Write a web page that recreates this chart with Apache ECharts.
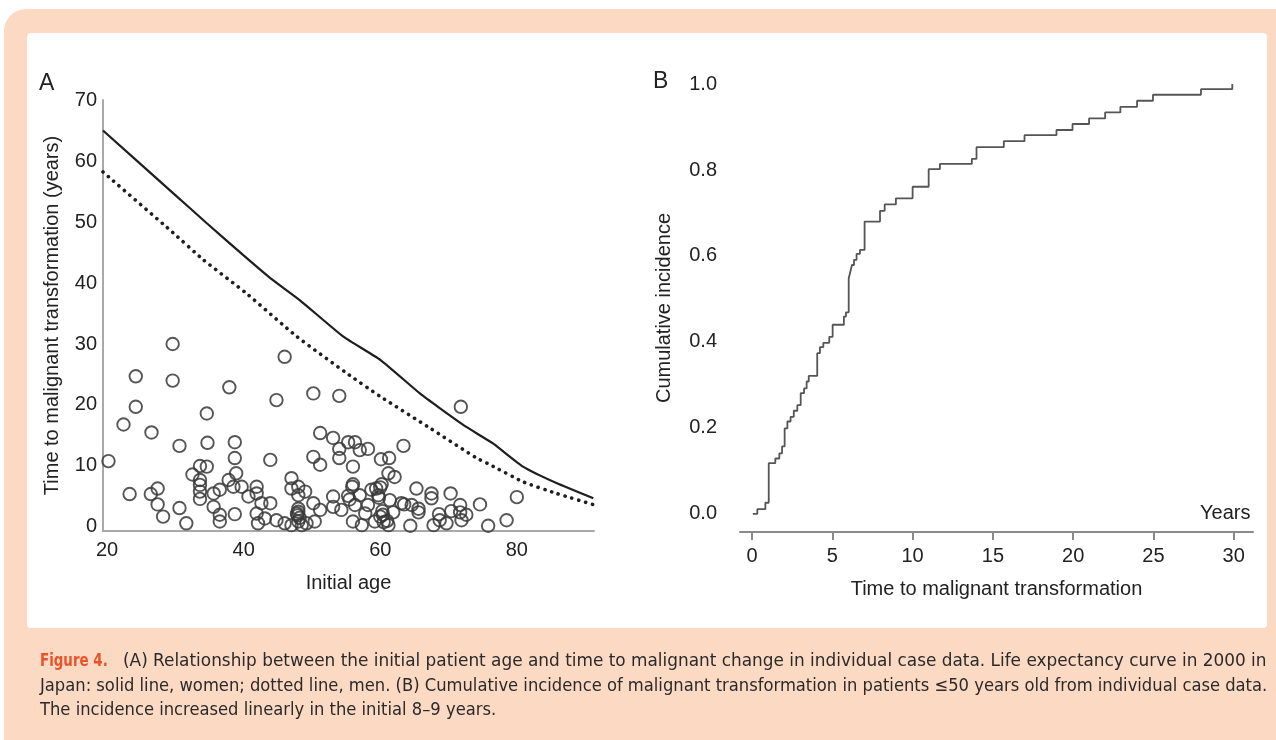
<!DOCTYPE html>
<html><head><meta charset="utf-8">
<script src="https://cdn.jsdelivr.net/npm/echarts@6/dist/echarts.min.js"></script>
<style>html,body{margin:0;padding:0;background:#fff}#c{width:1276px;height:740px}</style>
</head><body><div id="c"></div>
<script>
// Panel A: scatter (initial age, years to malignant transformation)
const scatterAge = [20.2,22.4,23.3,24.2,24.2,26.5,26.4,27.4,27.4,28.2,29.6,29.6,30.6,30.6,31.6,
32.5,33.6,33.6,33.6,33.6,33.6,34.6,34.7,34.6,35.6,35.6,36.5,36.5,36.5,37.9,37.8,38.7,38.7,38.9,38.5,38.7,39.7,
40.7,41.9,41.9,41.9,42.1,42.6,43.1,43.9,43.9,44.8,44.8,46.0,46.0,47.0,47.0,47.0,47.8,48.0,48.0,48.0,48.2,48.5,49.0,49.2,
50.2,50.2,51.2,51.2,50.2,51.2,50.4,53.1,53.1,53.1,54.0,54.0,54.0,54.3,55.3,56.3,55.3,56.0,56.0,56.3,56.0,57.0,57.0,57.8,57.3,58.2,58.7,58.2,59.2,59.7,
60.1,60.2,60.4,60.0,61.3,61.2,62.1,61.4,61.9,61.2,63.4,63.1,63.5,64.6,64.4,65.3,65.6,65.6,67.5,67.5,67.8,68.6,68.7,69.7,70.3,70.4,71.8,71.7,71.7,71.9,72.6,74.6,75.8,78.5,80.0,
48.0,48.0,47.9,55.9,55.5,59.4,60.0,59.8,60.3,61.0,60.5];
const scatterYears = [10.8,16.8,5.4,24.7,19.7,15.5,5.4,6.3,3.7,1.7,30.0,24.0,13.3,3.1,0.6,
8.6,10.0,6.9,4.6,7.7,5.8,18.6,13.8,9.9,5.5,3.3,6.1,2.0,0.9,22.9,7.7,13.9,11.3,8.8,6.6,2.1,6.6,
5.0,6.6,5.5,2.2,0.6,3.9,1.4,11.0,3.9,20.8,1.1,27.9,0.6,8.0,6.3,0.3,2.2,6.6,5.2,0.9,1.5,0.3,5.8,0.6,
21.9,11.5,15.4,10.2,3.9,2.8,0.9,14.6,5.0,3.3,21.5,12.8,11.3,2.8,13.9,13.9,5.1,9.9,7.0,3.6,0.9,12.6,5.2,2.2,0.3,12.8,6.1,3.6,0.9,5.2,
11.1,7.0,2.0,1.7,11.3,8.8,8.2,4.4,2.4,0.3,13.3,3.9,3.7,3.6,0.2,6.3,3.0,2.4,5.5,4.7,0.3,2.1,1.1,0.6,5.5,2.6,19.7,3.6,2.4,1.1,2.0,3.7,0.2,1.1,4.9,
3.0,2.5,1.9,6.6,4.5,6.3,6.5,4.8,2.6,1.0,0.8];
// Life expectancy, Japan 2000
const womenAge = [19.4,29.7,34.6,39.9,43.9,48.2,54.6,60.0,65.8,68.7,72.6,76.5,80.9,85.8,91.2];
const womenLife = [65.0,54.7,49.8,44.6,40.8,37.2,31.2,27.4,21.9,19.5,16.4,13.7,9.9,7.2,4.7];
const menAge = [19.4,29.2,34.1,40.4,47.8,55.1,60.0,67.3,74.1,76.1,80.9,85.8,91.4];
const menLife = [58.2,48.7,43.8,38.3,31.2,25.2,21.4,16.2,11.3,10.2,7.4,5.5,3.6];
const ticksAx = [20,40,60,80];
const ticksAy = [0,10,20,30,40,50,60,70];
// Panel B: cumulative incidence
const timeB = [0.05,0.33,0.83,1.04,1.45,1.70,1.87,2.03,2.2,2.4,2.6,2.82,3.03,3.24,3.4,3.53,4.06,4.23,4.44,4.81,5.02,5.72,5.85,6.02,6.1,6.22,6.35,6.51,6.72,7.01,7.97,8.26,8.96,10.0,11.0,11.7,13.69,13.98,15.68,16.97,18.96,19.96,20.99,21.99,22.94,23.98,24.97,27.96,29.91];
const incB = [0.0,0.011,0.026,0.118,0.129,0.141,0.157,0.199,0.215,0.226,0.240,0.253,0.281,0.292,0.308,0.321,0.374,0.388,0.398,0.412,0.44,0.459,0.469,0.548,0.560,0.579,0.591,0.605,0.614,0.680,0.705,0.720,0.734,0.761,0.802,0.814,0.826,0.853,0.867,0.881,0.893,0.907,0.920,0.934,0.947,0.961,0.975,0.988,1.0];
const ticksBx = [0,5,10,15,20,25,30];
const ticksBy = [0,0.2,0.4,0.6,0.8,1.0];

const zip = (a,b) => a.map((v,i)=>[v,b[i]]);
const FONT = '"Liberation Sans", Arial, sans-serif';
const CAP = '"Liberation Sans Narrow","DejaVu Sans Condensed",sans-serif';
const lab = {color:'#222', fontSize:20, fontFamily:FONT};
const chart = echarts.init(document.getElementById('c'), null, {renderer:'canvas'});
chart.setOption({
  animation:false,
  textStyle:{fontFamily:FONT},
  graphic:[
    {type:'rect', z:-20, shape:{x:4,y:9,width:1300,height:760,r:22}, style:{fill:'#fcd9c3'}},
    {type:'rect', z:-19, shape:{x:27,y:33,width:1240,height:595,r:4}, style:{fill:'#ffffff'}},
    {type:'text', left:39, top:72, style:{text:'A', fontSize:23, fill:'#222', fontFamily:FONT}},
    {type:'text', left:653, top:70, style:{text:'B', fontSize:23, fill:'#222', fontFamily:FONT}},
    {type:'text', left:1200, top:503, style:{text:'Years', fontSize:20, fill:'#222', fontFamily:FONT}},
    {type:'text', x:40, y:652, scaleX:0.82, originX:0, originY:0, style:{text:'Figure 4.', fill:'#e8542a', fontWeight:'bold', fontSize:18.2, fontFamily:CAP}},
    {type:'text', x:123, y:652, scaleX:1.033, originX:0, originY:0, style:{text:'(A) Relationship between the initial patient age and time to malignant change in individual case data. Life expectancy curve in 2000 in', fill:'#2a2a2a', fontSize:18.2, fontFamily:CAP}},
    {type:'text', left:40, top:677, style:{text:'Japan: solid line, women; dotted line, men. (B) Cumulative incidence of malignant transformation in patients \u226450 years old from individual case data.', fill:'#2a2a2a', fontSize:18.2, fontFamily:CAP}},
    {type:'text', left:40, top:701, style:{text:'The incidence increased linearly in the initial 8\u20139 years.', fill:'#2a2a2a', fontSize:18.2, fontFamily:CAP}}
  ],
  grid:[
    {left:103, top:100, width:491, height:431},
    {left:740, top:84, width:513, height:448}
  ],
  xAxis:[
    {gridIndex:0, type:'value', min:19.4, max:91.3, splitLine:{show:false},
     axisLine:{onZero:false, lineStyle:{color:'#a9a9a9', width:2}}, axisTick:{show:false},
     axisLabel:Object.assign({customValues:ticksAx, margin:9}, lab),
     name:'Initial age', nameLocation:'middle', nameGap:42, nameTextStyle:lab},
    {gridIndex:1, type:'value', min:-0.75, max:31.2, splitLine:{show:false},
     axisLine:{onZero:false, lineStyle:{color:'#8a8a8a', width:2}},
     axisTick:{customValues:ticksBx, length:8, lineStyle:{color:'#8a8a8a', width:2}},
     axisLabel:Object.assign({customValues:ticksBx, margin:14}, lab),
     name:'Time to malignant transformation', nameLocation:'middle', nameGap:47, nameTextStyle:lab}
  ],
  yAxis:[
    {gridIndex:0, type:'value', min:-0.66, max:70, splitLine:{show:false},
     axisLine:{show:true, onZero:false, lineStyle:{color:'#a9a9a9', width:2}}, axisTick:{show:false},
     axisLabel:Object.assign({customValues:ticksAy, margin:6}, lab),
     name:'Time to malignant transformation (years)', nameLocation:'middle', nameGap:41, nameTextStyle:lab},
    {gridIndex:1, type:'value', min:-0.042, max:1.0, splitLine:{show:false},
     axisLine:{show:false, onZero:false}, axisTick:{show:false},
     axisLabel:Object.assign({customValues:ticksBy, margin:23, formatter:v=>v.toFixed(1)}, lab),
     name:'Cumulative incidence', nameLocation:'middle', nameGap:66, nameTextStyle:lab}
  ],
  series:[
    {type:'scatter', xAxisIndex:0, yAxisIndex:0, data:zip(scatterAge, scatterYears), symbol:'circle', symbolSize:12.5,
     itemStyle:{color:'rgba(0,0,0,0)', borderColor:'#383838', borderWidth:1.9, opacity:0.85}},
    {type:'line', xAxisIndex:0, yAxisIndex:0, data:zip(womenAge, womenLife), showSymbol:false, symbol:'none', smooth:0.15,
     lineStyle:{color:'#1e1e1e', width:2.2}},
    {type:'line', xAxisIndex:0, yAxisIndex:0, data:zip(menAge, menLife), showSymbol:false, symbol:'none', smooth:0.15,
     lineStyle:{color:'#1e1e1e', width:3.6, type:[0.1,7], cap:'round'}},
    {type:'line', xAxisIndex:1, yAxisIndex:1, data:zip(timeB, incB), step:'end', showSymbol:false, symbol:'none',
     lineStyle:{color:'#555', width:1.8}}
  ]
});
</script></body></html>
